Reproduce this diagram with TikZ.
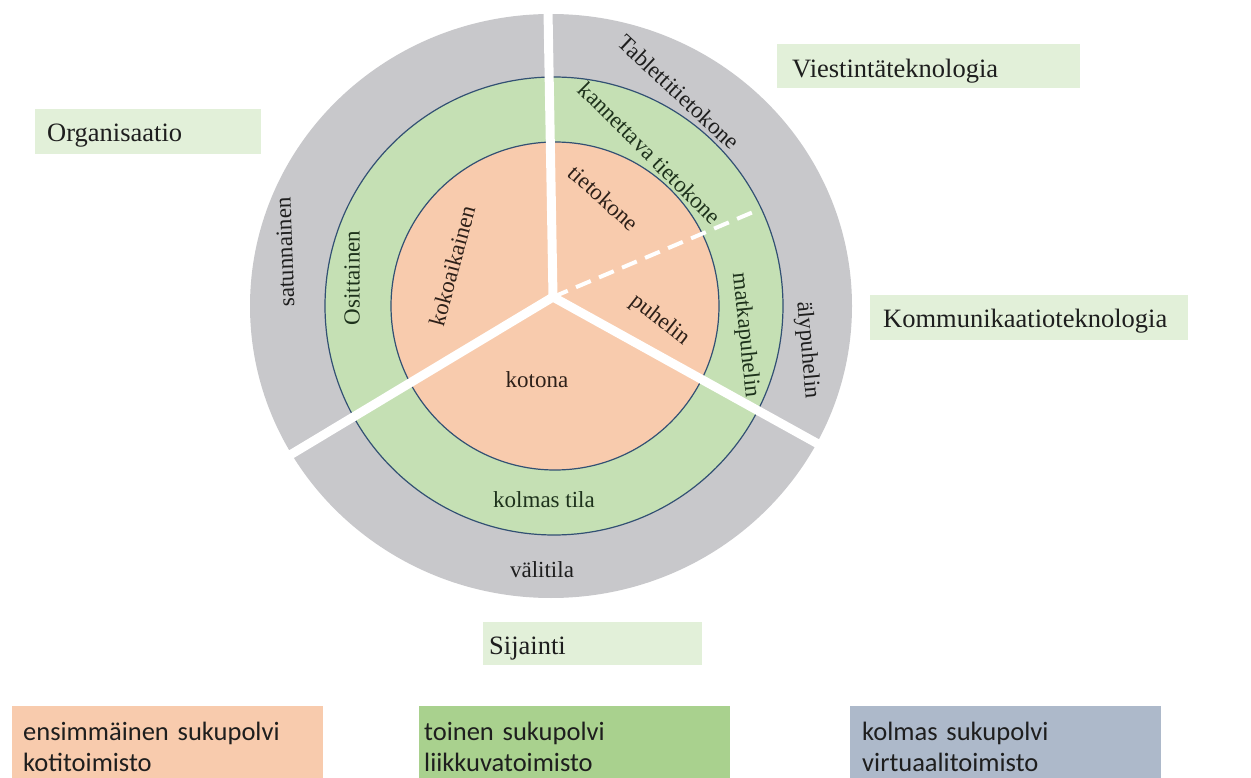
\documentclass[tikz,border=0pt]{standalone}
\usepackage{fontspec}
\setmainfont{Liberation Serif}
\newfontfamily\calib{Carlito}
\usetikzlibrary{shapes.geometric,calc}

\definecolor{ringgray}{RGB}{200,200,203}
\definecolor{ringgreen}{RGB}{197,224,180}
\definecolor{ringorange}{RGB}{248,203,173}
\definecolor{edgeblue}{RGB}{50,80,115}
\definecolor{lblgreen}{RGB}{226,240,217}
\definecolor{boxgreen}{RGB}{169,209,142}
\definecolor{boxblue}{RGB}{173,185,202}
\definecolor{txtgreen}{RGB}{30,50,28}
\definecolor{txtbrown}{RGB}{45,32,25}
\definecolor{txtdark}{RGB}{30,30,30}

\begin{document}
\begin{tikzpicture}[x=1pt,y=-1pt,
  ringlbl/.style={font=\fontsize{23}{26}\selectfont, inner sep=0pt},
  catlbl/.style={anchor=north west, fill=lblgreen, font=\fontsize{26.5}{30}\selectfont,
     inner ysep=0pt, align=left, text=txtdark},
  genbox/.style={anchor=north west, font=\calib\fontsize{26.5}{31}\selectfont,
     inner ysep=0pt, align=left, text=txtdark, text height=34pt, text depth=38pt},
  sepline/.style={white, line width=9pt, line cap=round},
  dashline/.style={white, line width=4pt, dash pattern=on 16pt off 9pt},
  ringedge/.style={draw=edgeblue, line width=1.2pt, inner sep=0pt}
  ]
\useasboundingbox (0,0) rectangle (1251,778);

% rings
\node[ellipse, fill=ringgray, minimum width=602pt, minimum height=584pt, inner sep=0pt] (outer) at (551,306) {};
\node[circle, fill=ringgreen, ringedge, minimum size=458pt] (mid) at (554,306) {};
\node[circle, fill=ringorange, ringedge, minimum size=328pt] (inner) at (555,306) {};

% separators
\coordinate (J) at (553,297);
\coordinate (Etop) at ($(J)+(91:330pt)$);
\coordinate (Ell) at ($(J)+(211:330pt)$);
\coordinate (Elr) at ($(J)+(331:330pt)$);
\coordinate (Edash) at ($(J)+(23:219pt)$);
\draw[dashline] (J) -- (Edash);
\draw[sepline] (J) -- (Etop);
\draw[sepline] (J) -- (Ell);
\draw[sepline] (J) -- (Elr);

% ring labels
\node[ringlbl, text=txtdark, rotate=-43] (tablet) at (679,92) {Tablettitietokone};
\node[ringlbl, text=txtgreen, rotate=-45] (kannettava) at (650,153) {kannettava tietokone};
\node[ringlbl, text=txtbrown, rotate=-42] (tietokone) at (604,198) {tietokone};
\node[ringlbl, text=txtbrown, rotate=75] (kokoaik) at (452,266) {kokoaikainen};
\node[ringlbl, text=txtgreen, rotate=90] (osit) at (352,278) {Osittainen};
\node[ringlbl, text=txtdark, rotate=92] (satun) at (285,252) {satunnainen};
\node[ringlbl, text=txtgreen, rotate=-84] (matka) at (745,335) {matkapuhelin};
\node[ringlbl, text=txtdark, rotate=-85] (aly) at (807,350) {älypuhelin};
\node[ringlbl, text=txtbrown, rotate=-38] (puhelin) at (660,320) {puhelin};
\node[ringlbl, text=txtbrown] (kotona) at (537,380) {kotona};
\node[ringlbl, text=txtgreen] (kolmas) at (544,500) {kolmas tila};
\node[ringlbl, text=txtdark] (vali) at (542,570) {välitila};

% category labels
\node[catlbl, inner xsep=12pt, text width=202pt, text height=32.5pt, text depth=12.5pt] (org) at (35,109) {Organisaatio};
\node[catlbl, inner xsep=15pt, text width=273pt, text height=33pt, text depth=11pt] (viest) at (777,44) {Viestintäteknologia};
\node[catlbl, inner xsep=13pt, text width=292pt, text height=32pt, text depth=13pt] (komm) at (870,295) {Kommunikaatioteknologia};
\node[catlbl, inner xsep=6pt, text width=207pt, text height=32pt, text depth=11pt] (sij) at (483,622) {Sijainti};

% generation boxes
\node[genbox, fill=ringorange, inner xsep=11pt, text width=289pt] (gen1) at (12,706) {ensimmäinen sukupolvi\\kotitoimisto};
\node[genbox, fill=boxgreen, inner xsep=5pt, text width=301pt] (gen2) at (419,706) {toinen sukupolvi\\liikkuvatoimisto};
\node[genbox, fill=boxblue, inner xsep=12pt, text width=287pt] (gen3) at (850,706) {kolmas sukupolvi\\virtuaalitoimisto};
\end{tikzpicture}
\end{document}
